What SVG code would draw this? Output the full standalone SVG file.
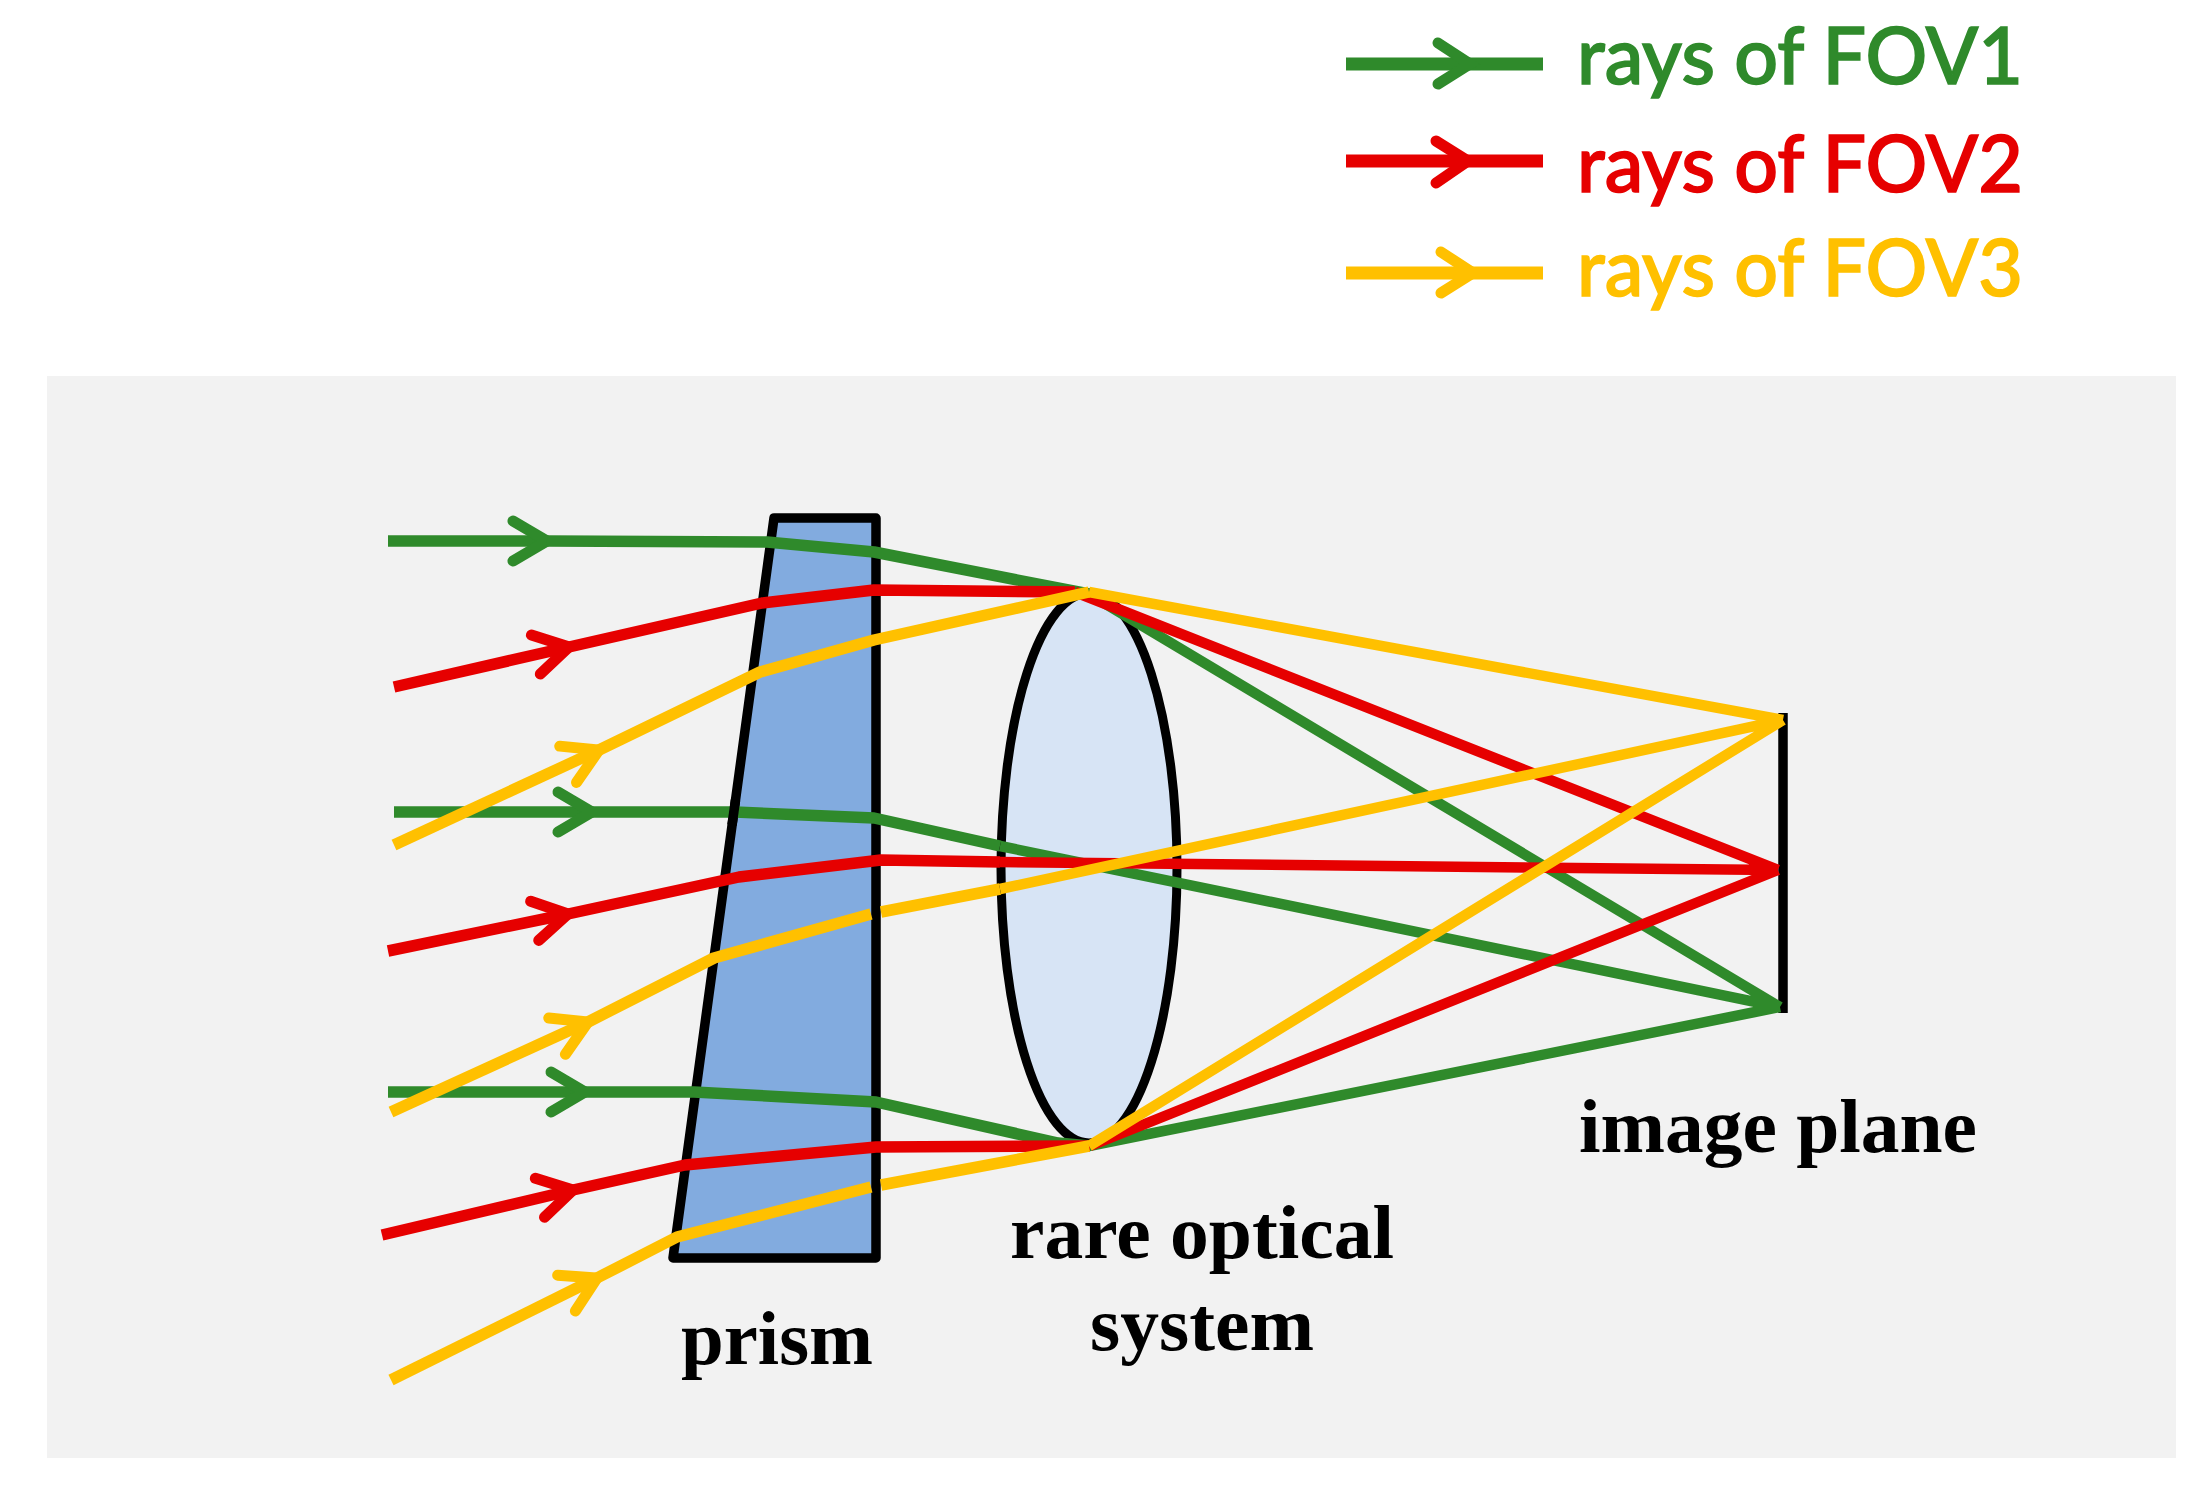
<svg xmlns="http://www.w3.org/2000/svg" width="2199" height="1490" viewBox="0 0 2199 1490">
<defs>
<marker id="ag" markerUnits="userSpaceOnUse" markerWidth="60" markerHeight="60" refX="44" refY="30" orient="auto" overflow="visible"><path d="M10,10 L44,30 L10,50" fill="none" stroke="#2f8a2b" stroke-width="11" stroke-linecap="round"/></marker>
<marker id="ar" markerUnits="userSpaceOnUse" markerWidth="60" markerHeight="60" refX="44" refY="30" orient="auto" overflow="visible"><path d="M10,10 L44,30 L10,50" fill="none" stroke="#e60000" stroke-width="11" stroke-linecap="round"/></marker>
<marker id="ay" markerUnits="userSpaceOnUse" markerWidth="60" markerHeight="60" refX="44" refY="30" orient="auto" overflow="visible"><path d="M10,10 L44,30 L10,50" fill="none" stroke="#ffc000" stroke-width="11" stroke-linecap="round"/></marker>
</defs>
<style>
.ray{fill:none;stroke-linejoin:round}
.in{stroke-width:11.5}
.out{stroke-width:10.5}
.g{stroke:#2f8a2b}
.r{stroke:#e60000}
.y{stroke:#ffc000}
.k{stroke:#000;fill:none;stroke-width:9.5}
.leg{font-family:"Lato","Open Sans",sans-serif;font-size:80px;font-weight:500;stroke-width:1.6}
.lab{font-family:"Liberation Serif","Times New Roman",serif;font-size:77px;font-weight:700;fill:#000}
</style>
<rect width="2199" height="1490" fill="#fff"/>
<rect id="background" x="47" y="376" width="2129" height="1082" fill="#f2f2f2"/>

<g id="prism">
<path d="M774,518 L876,518 L876,1258 L673,1258 Z" fill="#82abdf" stroke="#000" stroke-width="9.5" stroke-linejoin="round"/>
<text class="lab" x="681" y="1364" textLength="192" lengthAdjust="spacingAndGlyphs">prism</text>
</g>
<g id="lens">
<ellipse cx="1089" cy="868" rx="88" ry="275" fill="#d7e4f5" stroke="#000" stroke-width="9"/>
<text class="lab" x="1010" y="1258" textLength="384" lengthAdjust="spacingAndGlyphs">rare optical</text>
<text class="lab" x="1090" y="1350" textLength="224" lengthAdjust="spacingAndGlyphs">system</text>
</g>
<g id="image-plane">
<path class="k" d="M1783,713 V1013"/>
<text class="lab" x="1579" y="1152" textLength="398" lengthAdjust="spacingAndGlyphs">image plane</text>
</g>

<g id="connectors">
<path class="ray in g" d="M388,541 L547,541" marker-end="url(#ag)"/>
<path class="ray in g" d="M394,812 L592,812" marker-end="url(#ag)"/>
<path class="ray in g" d="M388,1092 L585,1092" marker-end="url(#ag)"/>
<path class="ray in r" d="M394,687 L569,647" marker-end="url(#ar)"/>
<path class="ray in r" d="M388,951 L568,914" marker-end="url(#ar)"/>
<path class="ray in r" d="M382,1235 L573,1190" marker-end="url(#ar)"/>
<polyline class="ray in g" points="547,541 767,542 874,552 1089,594"/>
<polyline class="ray in g" points="592,812 735,812 874,818 1000,846"/>
<polyline class="ray in g" points="585,1092 694,1092 876,1102 1058,1143 1089,1146"/>
<path class="ray out g" d="M1089,594 L1780,1007 M1000,846 L1780,1007 M1089,1146 L1780,1007"/>
<polyline class="ray in r" points="569,647 762,603 874,590 1075,592"/>
<polyline class="ray in r" points="568,914 739,877 881,860 1000,862"/>
<polyline class="ray in r" points="573,1190 685,1165 876,1147 1090,1146"/>
<path class="ray out r" d="M1075,592 L1778,870 M1000,862 L1778,870 M1090,1146 L1778,870"/>
<path class="k" d="M735.5,800 L732,825"/>
<path class="ray in y" d="M394,845 L599,750" marker-end="url(#ay)"/>
<path class="ray in y" d="M391,1112 L588,1022" marker-end="url(#ay)"/>
<path class="ray in y" d="M391,1380 L597,1278" marker-end="url(#ay)"/>
<polyline class="ray in y" points="599,750 760,672 874,640 1089,592"/>
<polyline class="ray in y" points="588,1022 714,958 871,914"/>
<polyline class="ray in y" points="881,912 1000,889"/>
<polyline class="ray in y" points="597,1278 677,1237 871,1187"/>
<polyline class="ray in y" points="881,1185 1089,1146"/>
<path class="ray out y" d="M1089,592 L1783,720 M1000,889 L1783,720 M1089,1146 L1783,720"/>
</g>

<g id="legend-fov1">
<path d="M1346,64 H1543" stroke="#2f8a2b" stroke-width="13" fill="none"/>
<path d="M1438,43 L1470,64 L1438,84" stroke="#2f8a2b" stroke-width="11" stroke-linecap="round" fill="none"/>
<text class="leg" x="1577" y="84" fill="#2f8a2b" stroke="#2f8a2b" textLength="446" lengthAdjust="spacingAndGlyphs">rays of FOV1</text>
</g>
<g id="legend-fov2">
<path d="M1346,161 H1543" stroke="#e60000" stroke-width="13" fill="none"/>
<path d="M1436,141 L1468,161 L1436,183" stroke="#e60000" stroke-width="11" stroke-linecap="round" fill="none"/>
<text class="leg" x="1577" y="192" fill="#e60000" stroke="#e60000" textLength="446" lengthAdjust="spacingAndGlyphs">rays of FOV2</text>
</g>
<g id="legend-fov3">
<path d="M1346,273 H1543" stroke="#ffc000" stroke-width="13" fill="none"/>
<path d="M1441,252 L1473,273 L1441,293" stroke="#ffc000" stroke-width="11" stroke-linecap="round" fill="none"/>
<text class="leg" x="1577" y="296" fill="#ffc000" stroke="#ffc000" textLength="446" lengthAdjust="spacingAndGlyphs">rays of FOV3</text>
</g>
</svg>
